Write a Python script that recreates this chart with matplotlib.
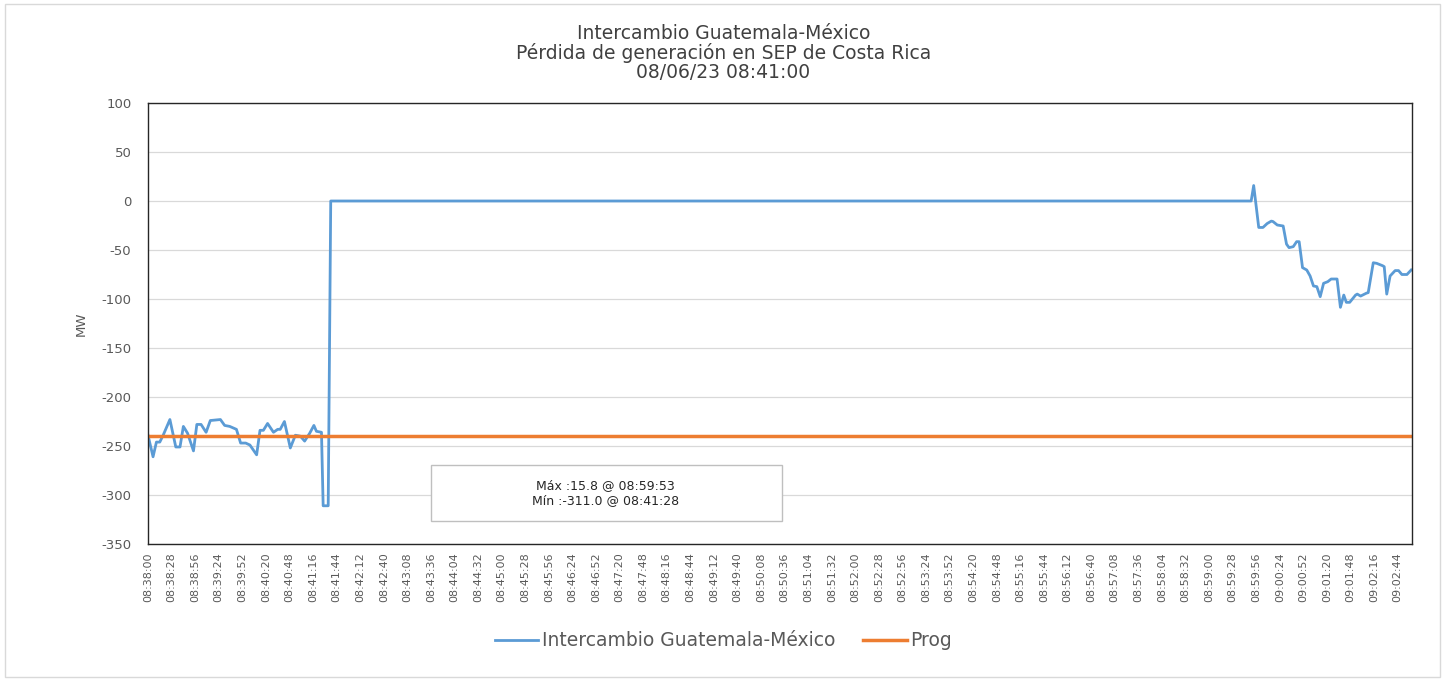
import matplotlib
matplotlib.use("Agg")
import matplotlib.pyplot as plt
from matplotlib.patches import Rectangle

# Datos (segundos desde 08:38:00, MW)
t_seg = [0, 6, 10, 14, 18, 26, 33, 38, 42, 47, 54, 58, 63, 69, 74, 86, 91, 97, 105,
         110, 116, 121, 129, 133, 137, 142, 149, 154, 157, 162, 169, 175, 181, 186,
         192, 197, 200, 206, 208, 214, 217, 1310, 1313, 1319, 1324, 1329, 1334, 1336,
         1341, 1348, 1352, 1355, 1360, 1364, 1367, 1371, 1376, 1380, 1384, 1388, 1392,
         1396, 1401, 1405, 1412, 1416, 1420, 1423, 1427, 1434, 1436, 1440, 1447, 1449,
         1455, 1459, 1466, 1468, 1471, 1475, 1481, 1485, 1489, 1495, 1500]
intercambio = [-239, -261, -246, -246, -239, -223, -251, -251, -230, -237, -255, -228,
               -228, -236, -224, -223, -229, -230, -233, -247, -247, -249, -259, -234,
               -234, -227, -236, -233, -233, -225, -252, -239, -240, -245, -237, -229,
               -235, -236, -311, -311, 0, 0, 15.8, -27, -27, -23, -20.5, -21, -24.5,
               -25.5, -44, -47.6, -46.6, -41.5, -41.5, -68, -70.4, -76.5, -86.7, -87.4,
               -97.6, -84, -82.3, -79.6, -79.6, -108.5, -96, -103.4, -103.4, -96, -95,
               -97, -94, -93.5, -63, -63.6, -66, -67, -95, -76.5, -71, -71, -75, -75,
               -70.4]
prog = -240

# Etiquetas del eje X cada 28 s
ticks = list(range(0, 1485, 28))
etiquetas = []
for s in ticks:
    total = 8 * 3600 + 38 * 60 + s
    etiquetas.append(f"{total // 3600:02d}:{(total % 3600) // 60:02d}:{total % 60:02d}")

plt.rcParams['font.family'] = ['DejaVu Sans']
plt.rcParams['axes.unicode_minus'] = False
gris = '#595959'

fig = plt.figure(figsize=(14.47, 6.81), dpi=100)
ax = fig.add_axes([148 / 1447, 1 - 544 / 681, 1264 / 1447, 441 / 681])

ax.plot(t_seg, intercambio, color='#5B9BD5', lw=2.0, label='Intercambio Guatemala-México')
ax.plot([t_seg[0], 1501], [prog, prog], color='#ED7D31', lw=2.5, label='Prog')

ax.set_xlim(0, 1501)
ax.set_ylim(-350, 100)
ax.set_yticks(range(-350, 101, 50))
ax.set_xticks(ticks)
ax.set_xticklabels(etiquetas, rotation=90, fontsize=8, color=gris)
ax.tick_params(axis='y', labelsize=9.5, labelcolor=gris, length=0, pad=12)
ax.tick_params(axis='x', length=0, pad=6)
ax.grid(axis='y', color='#d9d9d9', lw=0.9)
ax.set_axisbelow(True)
for sp in ax.spines.values():
    sp.set_color('#262626')
    sp.set_linewidth(1.0)

ax.set_ylabel('MW', fontsize=9.5, color=gris, labelpad=10)

fig.text(0.5, 1 - 24 / 681, 'Intercambio Guatemala-México\nPérdida de generación en SEP de Costa Rica\n08/06/23 08:41:00',
         ha='center', va='top', fontsize=13.5, color='#404040', linespacing=1.0)

# Cuadro de Máx / Mín
ax.add_patch(Rectangle((0.224, 0.052), 0.2776, 0.127, transform=ax.transAxes,
                       facecolor='white', edgecolor='#bfbfbf', lw=1.0, zorder=5))
ax.text(0.362, 0.1155, 'Máx :15.8 @ 08:59:53\nMín :-311.0 @ 08:41:28', transform=ax.transAxes,
        ha='center', va='center', fontsize=9, color='#262626', zorder=6, linespacing=1.25)

leg = fig.legend(loc='center', bbox_to_anchor=(0.5, 1 - 641 / 681), ncol=2, frameon=False,
                 fontsize=13.5, handlelength=2.3, handletextpad=0.2, columnspacing=1.5)
for txt in leg.get_texts():
    txt.set_color(gris)

# Borde del gráfico
fig.add_artist(Rectangle((5 / 1447, 4 / 681), 1435 / 1447, 673 / 681, transform=fig.transFigure,
                         fill=False, edgecolor='#d9d9d9', lw=1.0))

fig.savefig('out.png', dpi=100)
